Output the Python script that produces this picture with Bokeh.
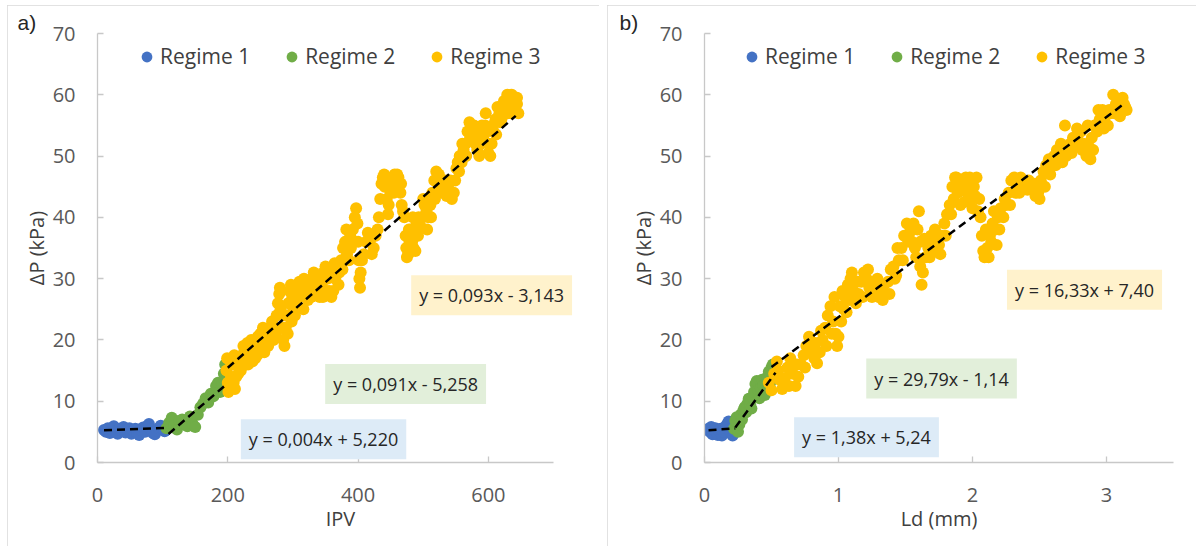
from bokeh.plotting import figure
from bokeh.models import Legend, LegendItem, Label, FixedTicker, Range1d
from bokeh.layouts import row
from bokeh.embed import file_html
from bokeh.resources import INLINE

FONT = "Open Sans"
BLUE, GREEN, YELLOW = "#4472C4", "#70AD47", "#FFC000"
series_names = ["Regime 1", "Regime 2", "Regime 3"]

# ---------------- Panel a) : IPV ----------------
a_r1_x = [10, 13, 16, 19, 22, 25, 28, 31, 34, 37, 40, 43, 46, 49, 52, 55, 58, 61, 64, 67, 70, 73, 76, 79, 82, 85, 88, 91, 94, 97, 100, 103, 106]
a_r1_y = [5.3, 5.0, 5.6, 4.8, 5.4, 5.9, 5.1, 4.7, 5.5, 5.2, 5.8, 4.9, 5.3, 5.6, 4.7, 5.2, 5.5, 4.9, 4.5, 5.3, 5.7, 5.0, 5.9, 6.3, 5.4, 4.8, 4.6, 5.2, 5.6, 6.0, 5.5, 5.1, 5.8]

a_r2_x = [106, 110, 114, 118, 122, 126, 130, 134, 138, 142, 146, 150, 154, 158, 162, 166, 170, 174, 178, 182, 185, 188, 191, 194, 196, 198]
a_r2_y = [5.6, 6.5, 7.3, 6.0, 5.4, 6.8, 7.0, 6.2, 5.9, 7.5, 6.3, 5.8, 7.8, 9.0, 9.6, 10.5, 9.8, 11.2, 10.8, 12.5, 13.0, 11.5, 12.8, 14.5, 16.0, 13.5]

a_r3_x = [198, 199, 200, 201, 203, 205, 207, 209, 211, 213, 215, 218, 220, 222, 225, 228, 231, 234, 236, 239,
          242, 245, 248, 250, 253, 256, 258, 261, 264, 267, 270, 272, 275, 277, 279, 281, 283, 285, 287, 289,
          291, 293, 295, 297, 299, 301, 303, 305, 308, 311, 314, 317, 320, 323, 326, 329, 332, 335, 338, 341,
          344, 347, 350, 353, 356, 359, 362, 365, 368, 371, 374, 377, 380, 383, 386, 389, 392, 395, 397, 399,
          400, 401, 402, 403, 404, 406, 409, 412, 415, 418, 421, 424, 427, 430, 432, 434, 436, 438, 441, 444,
          447, 450, 453, 456, 459, 462, 465, 467, 469, 471, 473, 474, 475, 477, 479, 481, 483, 485, 487, 490,
          493, 496, 499, 502, 505, 508, 511, 514, 517, 520, 523, 526, 529, 532, 535, 538, 541, 544, 547, 549,
          551, 553, 556, 559, 562, 565, 568, 571, 574, 577, 580, 583, 586, 589, 592, 595, 598, 601, 603, 605,
          608, 611, 614, 617, 620, 623, 626, 629, 632, 635, 638, 641, 644, 646,
          204, 210, 216, 224, 230, 238, 246, 254, 262, 268, 274, 280, 286, 292, 298, 304, 310, 316, 322, 328,
          334, 340, 346, 352, 358, 364, 370, 376, 382, 388, 394, 440, 448, 455, 460, 466, 446, 478, 484, 488,
          492, 500, 506, 512, 518, 524, 530, 536, 542, 555, 560, 566, 572, 578, 584, 590, 596, 600, 606, 612,
          618, 624, 630, 636, 640, 644]
a_r3_y = [15, 17, 13, 11.5, 12, 14, 16, 13, 12, 14, 16.5, 17, 15, 16.5, 18, 17, 16, 18, 20, 19,
          17, 17.5, 19, 21, 20, 18, 19.5, 21, 22, 21, 20, 22, 24, 26, 27.5, 25, 22, 20, 19, 22,
          24, 26, 28, 29, 27, 25, 24, 26, 28, 27, 29, 30, 28, 26.5, 28, 30, 31, 29, 28, 27,
          29, 31, 32, 30, 28, 27, 28, 30, 32, 31, 33, 35, 36, 34, 33, 35, 38, 40, 41.5, 39,
          36, 33, 30, 28.5, 31, 33, 34, 36, 37.5, 36, 34, 35, 37, 38, 40, 43, 45.5, 46.5, 45, 43,
          42, 44, 46, 47, 45, 46.5, 44, 42, 41, 40, 37, 35, 33.5, 34, 36, 38, 36, 35, 37, 39,
          40, 38.5, 40, 42, 41, 40, 42, 44, 46, 47.5, 46, 45, 44, 45, 46, 45, 44, 43, 44, 46,
          48, 49, 50, 49, 51, 52, 54, 55.5, 54, 53, 52, 51, 50, 52, 53, 55, 54, 52, 50, 52,
          54, 56, 58, 57, 56, 57, 58, 60, 59, 57, 58, 59, 58.5, 57,
          16.5, 17.5, 14.5, 19, 19.5, 16.5, 20.5, 22, 19, 23, 21, 28.5, 24, 21, 23, 28, 29.5, 25, 29.5, 27,
          30, 30.5, 27, 28, 31, 32.5, 29, 31.5, 38, 37, 36, 47, 45.5, 44, 47, 45.5, 40.5, 38, 40, 34.5,
          37, 43, 38, 40, 43, 47, 46, 43.5, 46, 47.5, 52, 50, 53, 55, 53.5, 55, 57, 50.5, 55, 53.5,
          55.5, 59, 57, 60, 57.5, 59.5]

a_trend_slope = [0.004, 0.091, 0.093]
a_trend_icpt = [5.220, -5.258, -3.143]
a_trend_from = [10, 109, 200]
a_trend_to = [108, 200, 642]
a_eq_text = ["y = 0,004x + 5,220", "y = 0,091x - 5,258", "y = 0,093x - 3,143"]
a_eq_x = [347, 473, 605]
a_eq_y = [3.8, 12.8, 27.3]

# ---------------- Panel b) : Ld (mm) ----------------
b_r1_x = [0.03, 0.04, 0.05, 0.06, 0.07, 0.08, 0.09, 0.10, 0.11, 0.12, 0.13, 0.14, 0.15, 0.16, 0.17, 0.18, 0.19, 0.20, 0.21, 0.22]
b_r1_y = [5.5, 5.0, 5.8, 4.6, 5.3, 5.6, 4.9, 4.5, 5.2, 5.5, 4.4, 5.0, 5.7, 5.9, 6.3, 6.7, 5.4, 4.8, 4.4, 5.1]

b_r2_x = [0.22, 0.23, 0.24, 0.25, 0.26, 0.27, 0.28, 0.29, 0.30, 0.31, 0.32, 0.33, 0.34, 0.35, 0.36, 0.37, 0.38, 0.39, 0.40, 0.41,
          0.42, 0.43, 0.44, 0.45, 0.46, 0.47, 0.48, 0.49, 0.50, 0.51]
b_r2_y = [5.5, 6.8, 7.4, 5.0, 6.2, 7.8, 7.0, 8.5, 9.0, 8.2, 9.6, 10.4, 9.5, 8.8, 10.6, 11.5, 12.8, 13.3, 11.8, 10.5,
          12.2, 13.5, 12.6, 11.0, 12.4, 14.0, 14.8, 13.0, 15.5, 16.0]

b_r3_x = [0.48, 0.50, 0.52, 0.54, 0.56, 0.58, 0.60, 0.62, 0.64, 0.66, 0.68, 0.70, 0.72, 0.74, 0.76, 0.78, 0.80, 0.82, 0.84, 0.86,
          0.88, 0.90, 0.92, 0.94, 0.96, 0.98, 0.99, 1.00, 1.02, 1.04, 1.05, 1.07, 1.09, 1.11, 1.13, 1.15, 1.17, 1.19, 1.21, 1.23,
          1.25, 1.27, 1.29, 1.31, 1.33, 1.35, 1.37, 1.39, 1.41, 1.43, 1.45, 1.47, 1.49, 1.51, 1.53, 1.55, 1.57, 1.59, 1.60, 1.61,
          1.61, 1.62, 1.63, 1.65, 1.67, 1.69, 1.71, 1.73, 1.75, 1.77, 1.79, 1.81, 1.83, 1.85, 1.87, 1.89, 1.91, 1.93, 1.95, 1.97,
          1.99, 2.01, 2.03, 2.05, 2.06, 2.07, 2.08, 2.09, 2.11, 2.13, 2.15, 2.17, 2.19, 2.21, 2.23, 2.25, 2.27, 2.29, 2.31, 2.33,
          2.35, 2.37, 2.39, 2.41, 2.43, 2.45, 2.47, 2.49, 2.51, 2.53, 2.55, 2.57, 2.59, 2.61, 2.63, 2.65, 2.67, 2.69, 2.71, 2.73,
          2.75, 2.77, 2.79, 2.81, 2.83, 2.85, 2.87, 2.89, 2.91, 2.93, 2.95, 2.97, 2.99, 3.01, 3.03, 3.05, 3.07, 3.09, 3.11, 3.13, 3.15,
          0.55, 0.63, 0.69, 0.75, 0.79, 0.83, 0.87, 0.91, 0.95, 0.97, 1.01, 1.03, 1.06, 1.08, 1.10, 1.14, 1.18, 1.22, 1.26, 1.30,
          1.34, 1.38, 1.42, 1.44, 1.48, 1.52, 1.56, 1.58, 1.64, 1.68, 1.72, 1.76, 1.80, 1.84, 1.86, 1.88, 1.90, 1.94, 1.96, 1.98,
          2.00, 2.02, 2.04, 2.10, 2.12, 2.14, 2.16, 2.18, 2.20, 2.24, 2.28, 2.32, 2.36, 2.42, 2.46, 2.50, 2.54, 2.58, 2.62, 2.66,
          2.70, 2.74, 2.78, 2.82, 2.86, 2.88, 2.90, 2.94, 2.98, 3.02, 3.06, 3.10, 3.12, 3.14]
b_r3_y = [13, 11.8, 14.5, 16.5, 13.5, 12, 13.8, 15.5, 17, 14.5, 12.5, 14, 16, 17.5, 19, 20.5, 18.5, 17, 16.2, 18,
          20, 22, 24, 25.5, 23, 21, 19, 20.5, 23, 25, 27, 29, 30, 28, 26, 27.5, 29.5, 31, 30, 28.5,
          27, 28.5, 30, 28, 26.5, 27.5, 29.5, 31.5, 32, 30.5, 33, 35, 37, 39, 37.5, 36, 35, 38, 41, 36,
          32, 29, 31, 33.5, 35, 37, 36, 34.5, 35.5, 37, 39, 40.5, 42, 45, 46.5, 44, 42, 44.5, 46.5, 45,
          43, 45, 46.5, 43, 40, 37, 34.5, 33.5, 35, 37, 39, 38, 40, 41.5, 40, 42, 44, 46, 46.5, 45,
          44, 45, 45.5, 44.5, 45.5, 44.5, 43.5, 44, 46, 47.5, 48.5, 49.5, 48.5, 50, 51, 50, 49, 55, 51, 52,
          53, 51.5, 52.5, 54, 52, 50, 51.5, 53, 55, 54, 56, 57.5, 56.5, 55, 57, 60, 58.5, 57.5, 59, 58.5, 57.5,
          15, 12.5, 16, 15.5, 18, 19.5, 21.5, 19, 21, 27, 25.5, 28, 24.5, 26.5, 31, 29.5, 27, 31.5, 29.5, 27,
          29, 27.5, 30, 35, 33, 36, 39, 33.5, 36.5, 33.5, 38, 34, 37, 40.5, 43, 46.5, 45.5, 42.5, 44, 46.5,
          41.5, 43.5, 41, 38, 33.5, 36, 41, 35.5, 38, 43, 42, 44, 46.5, 46, 45.5, 43, 45, 47, 48.5, 52,
          50, 50.5, 54.5, 51, 55, 49.5, 51, 57.5, 54.5, 57.5, 57, 56.5, 59.5, 58]

b_trend_slope = [1.38, 29.79, 16.33]
b_trend_icpt = [5.24, -1.14, 7.40]
b_trend_from = [0.03, 0.23, 0.50]
b_trend_to = [0.23, 0.53, 3.12]
b_eq_text = ["y = 1,38x + 5,24", "y = 29,79x - 1,14", "y = 16,33x + 7,40"]
b_eq_x = [1.209, 1.769, 2.836]
b_eq_y = [4.1, 13.7, 28.2]

y_ticks = [0, 10, 20, 30, 40, 50, 60, 70]
EQ_FILLS = ["#DDEBF7", "#E2EFDA", "#FFF2CC"]


def make_panel(tag, xs, ys, x_max, x_end, x_ticks, x_title, slopes, icpts, t_from, t_to,
               eq_text, eq_x, eq_y, fig_w, border_left, frame_w, legend_dx, tag_dx, margin):
    p = figure(width=fig_w, height=541, output_backend="svg", toolbar_location=None,
               x_range=Range1d(0, x_end), y_range=Range1d(0, 70),
               frame_width=frame_w, frame_height=429,
               min_border_left=border_left, min_border_right=fig_w - border_left - frame_w,
               min_border_top=28, min_border_bottom=84,
               background_fill_color="white", border_fill_color="white",
               outline_line_color=None, margin=margin,
               styles={"outline": "1px solid #d9d9d9", "outline-offset": "-1px"})
    p.grid.visible = False
    for ax in (p.xaxis[0], p.yaxis[0]):
        ax.axis_line_color = "#c8c8c8"
        ax.axis_line_width = 1.3
        ax.major_tick_line_color = "#c8c8c8"
        ax.major_tick_line_width = 1.3
        ax.major_tick_in = 6
        ax.major_tick_out = 0
        ax.minor_tick_line_color = None
        ax.major_label_text_font = FONT
        ax.major_label_text_font_size = "20px"
        ax.major_label_text_color = "#595959"
        ax.axis_label_text_font = FONT
        ax.axis_label_text_font_size = "20px"
        ax.axis_label_text_font_style = "normal"
        ax.axis_label_text_color = "#404040"
    p.xaxis.bounds = (0, x_max)
    p.xaxis.ticker = FixedTicker(ticks=x_ticks)
    p.yaxis.ticker = FixedTicker(ticks=y_ticks)
    p.xaxis.major_label_standoff = 25
    p.yaxis.major_label_standoff = 22
    p.xaxis.axis_label = x_title
    p.yaxis.axis_label = "ΔP (kPa)"
    p.xaxis.axis_label_standoff = 0
    p.yaxis.axis_label_standoff = 0

    p.title.text = tag
    p.title.align = "left"
    p.title.offset = tag_dx
    p.title.standoff = 0
    p.title.text_font = "Liberation Sans"
    p.title.text_font_size = "21px"
    p.title.text_font_style = "normal"
    p.title.text_color = "#262626"

    renderers = []
    for (x, y), c in zip(zip(xs, ys), [BLUE, GREEN, YELLOW]):
        r = p.scatter(x, y, size=12, fill_color=c, line_color=c, line_width=0)
        renderers.append(r)

    for m, b, x0, x1 in zip(slopes, icpts, t_from, t_to):
        p.line([x0, x1], [m * x0 + b, m * x1 + b], line_color="black",
               line_width=2.5, line_dash="8 5")

    for t, ex, ey, fc in zip(eq_text, eq_x, eq_y, EQ_FILLS):
        p.add_layout(Label(x=ex, y=ey, text=t, text_align="center", text_baseline="middle",
                           text_font=FONT, text_font_size="18px", text_color="#262626",
                           background_fill_color=fc, padding=8))

    items = [LegendItem(label=n, renderers=[r]) for n, r in zip(series_names, renderers)]
    leg = Legend(items=items, orientation="horizontal", location=(legend_dx, 392),
                 glyph_width=27, glyph_height=27, label_standoff=0, spacing=28,
                 padding=0, margin=0, border_line_color=None, background_fill_alpha=0,
                 label_text_font=FONT, label_text_font_size="21px", label_text_color="#404040")
    p.add_layout(leg, "center")
    return p


pa = make_panel("a)", [a_r1_x, a_r2_x, a_r3_x], [a_r1_y, a_r2_y, a_r3_y], 700, 746.05, [0, 200, 400, 600], "IPV",
                a_trend_slope, a_trend_icpt, a_trend_from, a_trend_to, a_eq_text, a_eq_x, a_eq_y,
                592, 90, 486, 36, -80, (5, 0, 0, 7))
pb = make_panel("b)", [b_r1_x, b_r2_x, b_r3_x], [b_r1_y, b_r2_y, b_r3_y], 3.5, 3.5, [0, 1, 2, 3], "Ld (mm)",
                b_trend_slope, b_trend_icpt, b_trend_from, b_trend_to, b_eq_text, b_eq_x, b_eq_y,
                589, 97, 469, 34, -85, (5, 0, 0, 8))

layout = row(pa, pb)
open("out.html", "w").write(file_html(layout, INLINE))
